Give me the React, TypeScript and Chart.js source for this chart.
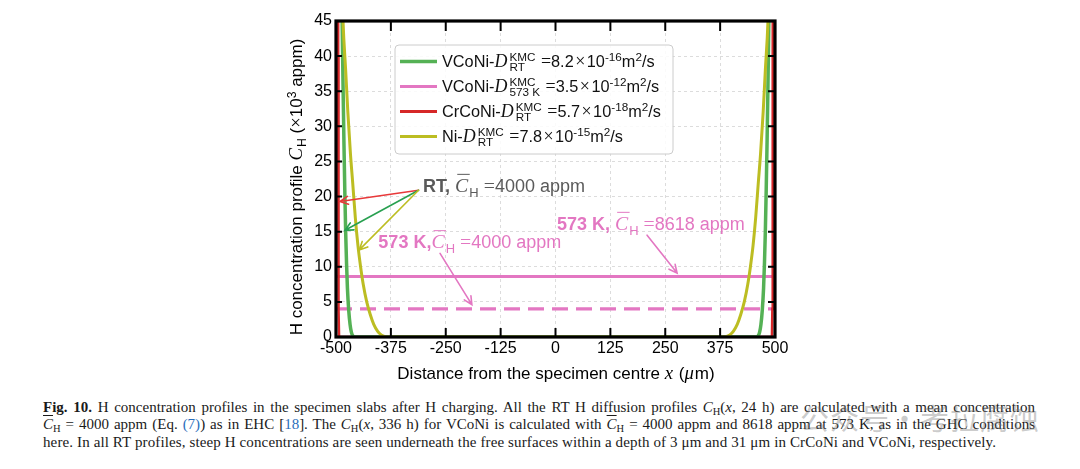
import { useEffect, useRef } from "react";
import { Chart, registerables } from "chart.js";

Chart.register(...registerables);

// profiles: x in µm, C_H in 10^3 appm
const niRtX = [-490, -487, -484, -478, -473, -467, -462, -456, -450, -444, -438, -430, -422, -414, -405, -397, -388, -380, 380, 388, 397, 405, 414, 422, 430, 438, 444, 450, 456, 462, 467, 473, 478, 484, 487, 490];
const niRtY = [60, 52, 45, 38, 32, 26, 22, 17, 13, 10, 7.5, 5, 3.2, 1.8, 0.8, 0.3, 0.05, 0, 0, 0.05, 0.3, 0.8, 1.8, 3.2, 5, 7.5, 10, 13, 17, 22, 26, 32, 38, 45, 52, 60];

const vconiRtX = [-488, -486, -484, -482, -480, -478, -476, -474, -471, -468, -465, -462, -458, 458, 462, 465, 468, 471, 474, 476, 478, 480, 482, 484, 486, 488];
const vconiRtY = [55, 45, 36, 28, 21, 15, 10.5, 7, 3.8, 1.8, 0.7, 0.2, 0, 0, 0.2, 0.7, 1.8, 3.8, 7, 10.5, 15, 21, 28, 36, 45, 55];

const crconiRtX = [-495.5, -495, -494.5, -494, -493, 493, 494, 494.5, 495, 495.5];
const crconiRtY = [70, 40, 15, 4, 0, 0, 4, 15, 40, 70];

const vconi573X = [-500, 500];
const vconi573HighY = [8.618, 8.618];
const vconi573LowY = [4, 4];

const xTicks = [-500, -375, -250, -125, 0, 125, 250, 375, 500];
const yTicks = [0, 5, 10, 15, 20, 25, 30, 35, 40, 45];

// legend text
const legendAlloys = ["VCoNi-", "VCoNi-", "CrCoNi-", "Ni-"];
const legendTemps = ["RT", "573 K", "RT", "RT"];
const legendMantissas = ["8.2", "3.5", "5.7", "7.8"];
const legendExponents = ["-16", "-12", "-18", "-15"];

const GREEN = "#55b155";
const PINK = "#e377c2";
const RED = "#d62728";
const OLIVE = "#bcbd22";
const GRAY = "#5a5a5a";
const legendColors = [GREEN, PINK, RED, OLIVE];
const legendWidths = [3.5, 3, 3, 3];

const SANS = '"Liberation Sans", Arial, Helvetica, sans-serif';
const SERIF = '"Liberation Serif", "Times New Roman", serif';

type Part = { t: string; k?: "n" | "b" | "i" | "m" | "sup" | "sub" | "stack"; t2?: string; bar?: boolean };

function partFont(k: Part["k"], size: number) {
  switch (k) {
    case "b":
      return `bold ${size}px ${SANS}`;
    case "i":
      return `italic ${size * 1.1}px ${SERIF}`;
    case "m":
      return `${size * 1.1}px ${SERIF}`;
    case "sup":
    case "sub":
    case "stack":
      return `${size * 0.72}px ${SANS}`;
    default:
      return `${size}px ${SANS}`;
  }
}

function drawRich(ctx: CanvasRenderingContext2D, parts: Part[], x: number, y: number, size: number, color: string, measureOnly = false) {
  ctx.save();
  ctx.fillStyle = color;
  ctx.strokeStyle = color;
  ctx.textAlign = "left";
  ctx.textBaseline = "alphabetic";
  let cx = x;
  for (const p of parts) {
    ctx.font = partFont(p.k, size);
    const w = ctx.measureText(p.t).width;
    if (p.k === "stack") {
      const w2 = ctx.measureText(p.t2 ?? "").width;
      if (!measureOnly) {
        ctx.fillText(p.t, cx + 1, y - size * 0.34);
        ctx.fillText(p.t2 ?? "", cx + 1, y + size * 0.26);
      }
      cx += Math.max(w, w2) + 2;
    } else {
      const dy = p.k === "sup" ? -size * 0.38 : p.k === "sub" ? size * 0.26 : 0;
      if (!measureOnly) {
        ctx.fillText(p.t, cx, y + dy);
        if (p.bar) {
          ctx.lineWidth = 1;
          ctx.beginPath();
          ctx.moveTo(cx + size * 0.12, y - size * 0.98);
          ctx.lineTo(cx + w + size * 0.08, y - size * 0.98);
          ctx.stroke();
        }
      }
      cx += w + (p.k === "i" ? size * 0.06 : 0);
    }
  }
  ctx.restore();
  return cx - x;
}

function drawArrow(ctx: CanvasRenderingContext2D, x1: number, y1: number, x2: number, y2: number, color: string) {
  const a = Math.atan2(y2 - y1, x2 - x1);
  const h = 9;
  ctx.save();
  ctx.strokeStyle = color;
  ctx.lineWidth = 1.6;
  ctx.lineCap = "round";
  ctx.beginPath();
  ctx.moveTo(x1, y1);
  ctx.lineTo(x2, y2);
  ctx.moveTo(x2 - h * Math.cos(a - 0.45), y2 - h * Math.sin(a - 0.45));
  ctx.lineTo(x2, y2);
  ctx.lineTo(x2 - h * Math.cos(a + 0.45), y2 - h * Math.sin(a + 0.45));
  ctx.stroke();
  ctx.restore();
}

// annotation anchors in data units
const rtArrowFrom = [-312, 20.9];
const rtArrowTargets = [
  { to: [-491, 19.3], color: "#e8393a" },
  { to: [-479.5, 15.2], color: "#28a050" },
  { to: [-447, 12.4], color: OLIVE },
];
const hotArrows = [
  { from: [-263, 11.9], to: [-190.5, 4.6] },
  { from: [208.6, 14.5], to: [277, 9.1] },
];

const pts = (xs: number[], ys: number[]) => xs.map((x, i) => ({ x, y: ys[i] }));

const framePlugin = {
  id: "frame",
  afterDatasetsDraw(chart: Chart) {
    const { ctx, chartArea, scales } = chart;
    const { left, right, top, bottom } = chartArea;
    ctx.save();
    ctx.strokeStyle = "#000";
    ctx.lineWidth = 2;
    ctx.beginPath();
    for (const v of xTicks) {
      const px = scales.x.getPixelForValue(v);
      ctx.moveTo(px, bottom);
      ctx.lineTo(px, bottom - 9);
      ctx.moveTo(px, top);
      ctx.lineTo(px, top + 10);
    }
    for (const v of yTicks) {
      const py = scales.y.getPixelForValue(v);
      ctx.moveTo(left, py);
      ctx.lineTo(left + 6, py);
      ctx.moveTo(right, py);
      ctx.lineTo(right - 7, py);
    }
    ctx.stroke();
    ctx.lineWidth = 3.2;
    ctx.strokeRect(left, top, right - left, bottom - top);
    ctx.restore();
  },
};

const overlayPlugin = {
  id: "overlay",
  afterDraw(chart: Chart) {
    const { ctx, chartArea, scales } = chart;
    const X = (v: number) => scales.x.getPixelForValue(v);
    const Y = (v: number) => scales.y.getPixelForValue(v);

    // legend box
    const bx = chartArea.left + 59;
    const by = chartArea.top + 24;
    const bw = 278;
    const bh = 109;
    ctx.save();
    ctx.fillStyle = "rgba(255,255,255,0.85)";
    ctx.strokeStyle = "#cccccc";
    ctx.lineWidth = 1;
    ctx.beginPath();
    ctx.roundRect(bx, by, bw, bh, 4);
    ctx.fill();
    ctx.stroke();
    ctx.restore();
    legendAlloys.forEach((name, i) => {
      const cy = by + 16.5 + i * 25;
      ctx.save();
      ctx.strokeStyle = legendColors[i];
      ctx.lineWidth = legendWidths[i];
      ctx.beginPath();
      ctx.moveTo(bx + 5, cy);
      ctx.lineTo(bx + 42, cy);
      ctx.stroke();
      ctx.restore();
      const parts: Part[] = [
        { t: name },
        { t: "D", k: "i" },
        { t: "KMC", k: "stack", t2: legendTemps[i] },
        { t: " " },
        { t: "=", k: "m" },
        { t: legendMantissas[i] },
        { t: "\u200a×\u200a", k: "m" },
        { t: "10" },
        { t: legendExponents[i], k: "sup" },
        { t: "m" },
        { t: "2", k: "sup" },
        { t: "/s" },
      ];
      drawRich(ctx, parts, bx + 47, cy + 5.5, 16.3, "#111");
    });

    // arrows
    for (const a of rtArrowTargets) {
      drawArrow(ctx, X(rtArrowFrom[0]), Y(rtArrowFrom[1]), X(a.to[0]), Y(a.to[1]), a.color);
    }
    for (const a of hotArrows) {
      drawArrow(ctx, X(a.from[0]), Y(a.from[1]), X(a.to[0]), Y(a.to[1]), PINK);
    }

    // annotation labels
    const cBar = (rest: string): Part[] => [
      { t: "C", k: "i", bar: true },
      { t: "H", k: "sub" },
      { t: " " },
      { t: "=", k: "m" },
      { t: rest },
    ];
    drawRich(ctx, [{ t: "RT, ", k: "b" }, ...cBar("4000 appm")], X(-301.6), Y(20.65), 18, GRAY);
    drawRich(ctx, [{ t: "573 K,", k: "b" }, ...cBar("4000 appm")], X(-403.5), Y(12.63), 18, PINK);
    drawRich(ctx, [{ t: "573 K, ", k: "b" }, ...cBar("8618 appm")], X(3.3), Y(15.24), 18, PINK);

    // axis titles
    const xt: Part[] = [
      { t: "Distance from the specimen centre " },
      { t: "x", k: "i" },
      { t: " (" },
      { t: "μ", k: "i" },
      { t: "m)" },
    ];
    const xw = drawRich(ctx, xt, 0, 0, 17, "#000", true);
    drawRich(ctx, xt, 556 - xw / 2, 379, 17, "#000");

    const yt: Part[] = [
      { t: "H concentration profile " },
      { t: "C", k: "i" },
      { t: "H", k: "sub" },
      { t: " (" },
      { t: "×", k: "m" },
      { t: "10" },
      { t: "3", k: "sup" },
      { t: " appm)" },
    ];
    const yw = drawRich(ctx, yt, 0, 0, 17, "#000", true);
    ctx.save();
    ctx.translate(302, 187);
    ctx.rotate(-Math.PI / 2);
    drawRich(ctx, yt, -yw / 2, 0, 17, "#000");
    ctx.restore();
  },
};

function ProfileChart() {
  const canvasRef = useRef<HTMLCanvasElement>(null);

  useEffect(() => {
    if (!canvasRef.current) return;
    const tickFont = { family: SANS, size: 16 };
    const chart = new Chart(canvasRef.current, {
      type: "line",
      data: {
        datasets: [
          { label: "Ni RT", data: pts(niRtX, niRtY), borderColor: OLIVE, borderWidth: 3, cubicInterpolationMode: "monotone", order: 0, clip: 0 },
          { label: "VCoNi RT", data: pts(vconiRtX, vconiRtY), borderColor: GREEN, borderWidth: 3.5, cubicInterpolationMode: "monotone", order: 1, clip: 0 },
          { label: "CrCoNi RT", data: pts(crconiRtX, crconiRtY), borderColor: RED, borderWidth: 2.5, order: 2, clip: 0 },
          { label: "VCoNi 573 K, 8618 appm", data: pts(vconi573X, vconi573HighY), borderColor: PINK, borderWidth: 3, order: 3, clip: 0 },
          { label: "VCoNi 573 K, 4000 appm", data: pts(vconi573X, vconi573LowY), borderColor: PINK, borderWidth: 3.2, borderDash: [16, 8], order: 4, clip: 0 },
        ],
      },
      options: {
        responsive: false,
        animation: false,
        layout: { padding: { left: 0, right: 1080 - 775, top: 21, bottom: 0 } },
        elements: { point: { radius: 0 }, line: { tension: 0 } },
        plugins: { legend: { display: false }, tooltip: { enabled: false } },
        scales: {
          x: {
            type: "linear",
            min: -500,
            max: 500,
            afterBuildTicks: (s) => {
              s.ticks = xTicks.map((value) => ({ value }));
            },
            afterFit: (s) => {
              s.height = 395 - 337;
            },
            ticks: { font: tickFont, color: "#000", padding: 2, maxRotation: 0, autoSkip: false },
            grid: { color: "#d4d4d4", lineWidth: 0.8, drawTicks: false },
            border: { display: false, dash: [3, 3] },
          },
          y: {
            min: 0,
            max: 45,
            afterBuildTicks: (s) => {
              s.ticks = yTicks.map((value) => ({ value }));
            },
            afterFit: (s) => {
              s.width = 336;
            },
            ticks: { font: tickFont, color: "#000", padding: 4 },
            grid: { color: "#d4d4d4", lineWidth: 0.8, drawTicks: false },
            border: { display: false, dash: [3, 3] },
          },
        },
      },
      plugins: [framePlugin, overlayPlugin],
    });
    return () => chart.destroy();
  }, []);

  return <canvas ref={canvasRef} width={1080} height={395} style={{ position: "absolute", left: 0, top: 0 }} />;
}

const sub = { fontSize: "70%", verticalAlign: "-0.3em", lineHeight: 0 } as const;
const link = { color: "#2a6ebb" };
const cbar = (
  <>
    <i style={{ textDecoration: "overline" }}>C</i>
    <span style={sub}>H</span>
  </>
);
const ch = (
  <>
    <i>C</i>
    <span style={sub}>H</span>
  </>
);

export default function App() {
  const line = { textAlign: "justify", textAlignLast: "justify" } as const;
  return (
    <div style={{ position: "fixed", left: 0, top: 0, width: 1080, height: 469, background: "#fff", overflow: "hidden" }}>
      <ProfileChart />
      <div
        style={{
          position: "absolute",
          left: 43,
          top: 399,
          width: 992,
          fontFamily: SERIF,
          fontSize: 15,
          lineHeight: "17.4px",
          color: "#1a1a1a",
        }}
      >
        <div style={line}>
          <b>Fig. 10.</b> H concentration profiles in the specimen slabs after H charging. All the RT H diffusion profiles {ch}(<i>x</i>, 24 h) are
          calculated with a mean concentration
        </div>
        <div style={line}>
          {cbar} = 4000 appm (Eq. <span style={link}>(7)</span>) as in EHC [<span style={link}>18</span>]. The {ch}(<i>x</i>, 336 h) for VCoNi
          is calculated with {cbar} = 4000 appm and 8618 appm at 573 K, as in the GHC conditions
        </div>
        <div style={{ letterSpacing: 0.12, whiteSpace: "nowrap" }}>
          here. In all RT profiles, steep H concentrations are seen underneath the free surfaces within a depth of 3 μm and 31 μm in CrCoNi and
          VCoNi, respectively.
        </div>
      </div>
      <div
        style={{
          position: "absolute",
          left: 800,
          top: 399,
          fontFamily: '"Noto Sans CJK SC", sans-serif',
          fontSize: 29,
          lineHeight: "36px",
          color: "rgba(120,120,120,0.4)",
          letterSpacing: 1,
          whiteSpace: "nowrap",
        }}
      >
        公众号·考拉腐蚀
      </div>
    </div>
  );
}
